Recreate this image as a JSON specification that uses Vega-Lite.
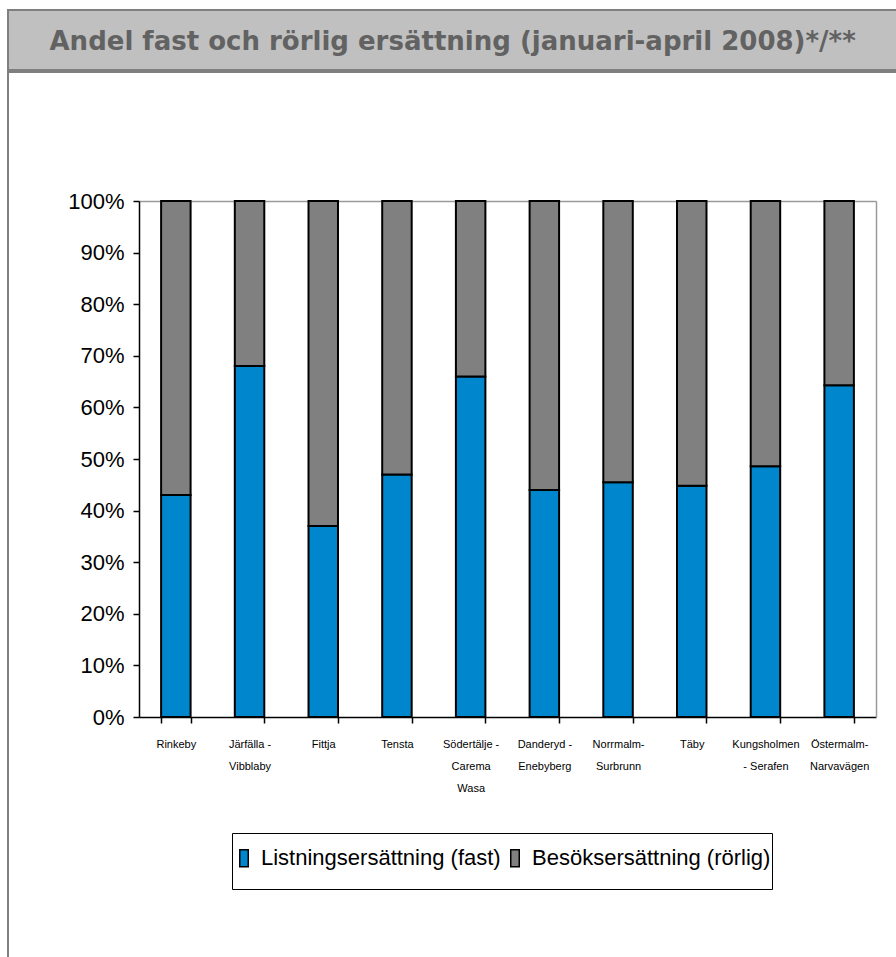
{
  "$schema": "https://vega.github.io/schema/vega-lite/v6.json",
  "padding": {"left": 7, "top": 9, "right": -5, "bottom": -3},
  "background": "white",
  "spacing": 0,
  "config": {"font": "Liberation Sans"},
  "vconcat": [
    {
      "width": 894,
      "height": 60,
      "data": {"values": []},
      "mark": "point",
      "view": {"fill": "#c0c0c0", "stroke": "#7f7f7f", "strokeWidth": 2},
      "encoding": {
        "x": {
          "field": "t",
          "type": "quantitative",
          "axis": {
            "orient": "top",
            "title": "Andel fast och rörlig ersättning (januari-april 2008)*/**",
            "labels": false,
            "ticks": false,
            "domain": false,
            "grid": false,
            "titleX": 41,
            "titleY": 39,
            "titleAlign": "left",
            "titleAnchor": "start",
            "titleBaseline": "alphabetic",
            "titleFont": "DejaVu Sans",
            "titleFontWeight": "bold",
            "titleFontSize": 26,
            "titleColor": "#626262"
          }
        }
      }
    },
    {
      "width": 894,
      "height": 890,
      "view": {"stroke": "#7f7f7f", "strokeWidth": 2},
      "data": {
        "values": [
          {"vardcentral": "Rinkeby", "ersattning": "Listningsersättning (fast)", "andel": 0.43},
          {"vardcentral": "Rinkeby", "ersattning": "Besöksersättning (rörlig)", "andel": 0.57},
          {"vardcentral": "Järfälla-Vibblaby", "ersattning": "Listningsersättning (fast)", "andel": 0.68},
          {"vardcentral": "Järfälla-Vibblaby", "ersattning": "Besöksersättning (rörlig)", "andel": 0.32},
          {"vardcentral": "Fittja", "ersattning": "Listningsersättning (fast)", "andel": 0.37},
          {"vardcentral": "Fittja", "ersattning": "Besöksersättning (rörlig)", "andel": 0.63},
          {"vardcentral": "Tensta", "ersattning": "Listningsersättning (fast)", "andel": 0.47},
          {"vardcentral": "Tensta", "ersattning": "Besöksersättning (rörlig)", "andel": 0.53},
          {"vardcentral": "Södertälje-Carema Wasa", "ersattning": "Listningsersättning (fast)", "andel": 0.66},
          {"vardcentral": "Södertälje-Carema Wasa", "ersattning": "Besöksersättning (rörlig)", "andel": 0.34},
          {"vardcentral": "Danderyd-Enebyberg", "ersattning": "Listningsersättning (fast)", "andel": 0.44},
          {"vardcentral": "Danderyd-Enebyberg", "ersattning": "Besöksersättning (rörlig)", "andel": 0.56},
          {"vardcentral": "Norrmalm-Surbrunn", "ersattning": "Listningsersättning (fast)", "andel": 0.455},
          {"vardcentral": "Norrmalm-Surbrunn", "ersattning": "Besöksersättning (rörlig)", "andel": 0.545},
          {"vardcentral": "Täby", "ersattning": "Listningsersättning (fast)", "andel": 0.448},
          {"vardcentral": "Täby", "ersattning": "Besöksersättning (rörlig)", "andel": 0.552},
          {"vardcentral": "Kungsholmen-Serafen", "ersattning": "Listningsersättning (fast)", "andel": 0.486},
          {"vardcentral": "Kungsholmen-Serafen", "ersattning": "Besöksersättning (rörlig)", "andel": 0.514},
          {"vardcentral": "Östermalm-Narvavägen", "ersattning": "Listningsersättning (fast)", "andel": 0.643},
          {"vardcentral": "Östermalm-Narvavägen", "ersattning": "Besöksersättning (rörlig)", "andel": 0.357}
        ]
      },
      "layer": [
        {
          "mark": {"type": "bar", "stroke": "black", "strokeWidth": 2},
          "encoding": {
            "x": {
              "field": "vardcentral",
              "type": "nominal",
              "sort": null,
              "scale": {"range": [131, 868], "paddingInner": 0.6, "paddingOuter": 0.3},
              "axis": {
                "orient": "bottom",
                "offset": -245,
                "title": null,
                "labelAngle": 0,
                "labelFontSize": 11,
                "labelColor": "black",
                "labelOverlap": false,
                "labelLimit": 200,
                "labelBaseline": "top",
                "labelLineHeight": 22,
                "labelPadding": 15,
                "labelExpr": "datum.value == 'Järfälla-Vibblaby' ? ['Järfälla -', 'Vibblaby'] : datum.value == 'Södertälje-Carema Wasa' ? ['Södertälje -', 'Carema', 'Wasa'] : datum.value == 'Danderyd-Enebyberg' ? ['Danderyd -', 'Enebyberg'] : datum.value == 'Norrmalm-Surbrunn' ? ['Norrmalm-', 'Surbrunn'] : datum.value == 'Kungsholmen-Serafen' ? ['Kungsholmen', '- Serafen'] : datum.value == 'Östermalm-Narvavägen' ? ['Östermalm-', 'Narvavägen'] : datum.value",
                "tickBand": "extent",
                "tickSize": 6,
                "tickColor": "black",
                "tickWidth": 1.5,
                "domainColor": "black",
                "domainWidth": 1.5
              }
            },
            "y": {
              "field": "andel",
              "type": "quantitative",
              "stack": "zero",
              "scale": {"domain": [0, 1], "nice": false, "range": [645, 129]},
              "axis": {
                "orient": "left",
                "offset": -131,
                "title": null,
                "values": [0, 0.1, 0.2, 0.3, 0.4, 0.5, 0.6, 0.7, 0.8, 0.9, 1],
                "format": ".0%",
                "grid": false,
                "labelFontSize": 22,
                "labelColor": "black",
                "labelPadding": 9,
                "tickSize": 6,
                "tickColor": "black",
                "tickWidth": 1.5,
                "domainColor": "black",
                "domainWidth": 1.5
              }
            },
            "color": {
              "field": "ersattning",
              "type": "nominal",
              "scale": {
                "domain": ["Listningsersättning (fast)", "Besöksersättning (rörlig)"],
                "range": ["#0086cc", "#808080"]
              },
              "legend": {
                "orient": "none",
                "legendX": 224,
                "legendY": 823,
                "direction": "horizontal",
                "title": " ",
                "titleFontSize": 1,
                "titlePadding": 12,
                "strokeColor": "black",
                "fillColor": "white",
                "padding": 1,
                "symbolType": "M0,3.1L0,3.1M-0.5,-1H0.5V1H-0.5Z",
                "symbolSize": 289,
                "symbolStrokeColor": "black",
                "symbolStrokeWidth": 1.5,
                "symbolOpacity": 1,
                "labelFontSize": 22,
                "labelColor": "black",
                "labelLimit": 400,
                "labelOffset": 6,
                "columnPadding": 3
              }
            },
            "order": {"field": "ersattning", "sort": "descending"}
          }
        },
        {
          "mark": {"type": "bar", "opacity": 0},
          "encoding": {
            "x": {
              "field": "vardcentral",
              "type": "nominal",
              "sort": null,
              "axis": {
                "orient": "top",
                "offset": -129,
                "title": null,
                "labels": false,
                "ticks": false,
                "domainColor": "#9a9a9a",
                "domainWidth": 1.5
              }
            },
            "y": {
              "field": "andel",
              "type": "quantitative",
              "axis": {
                "orient": "right",
                "offset": -26,
                "title": null,
                "labels": false,
                "ticks": false,
                "grid": false,
                "domainColor": "#9a9a9a",
                "domainWidth": 1.5
              }
            }
          }
        }
      ],
      "resolve": {"axis": {"x": "independent", "y": "independent"}}
    }
  ]
}
